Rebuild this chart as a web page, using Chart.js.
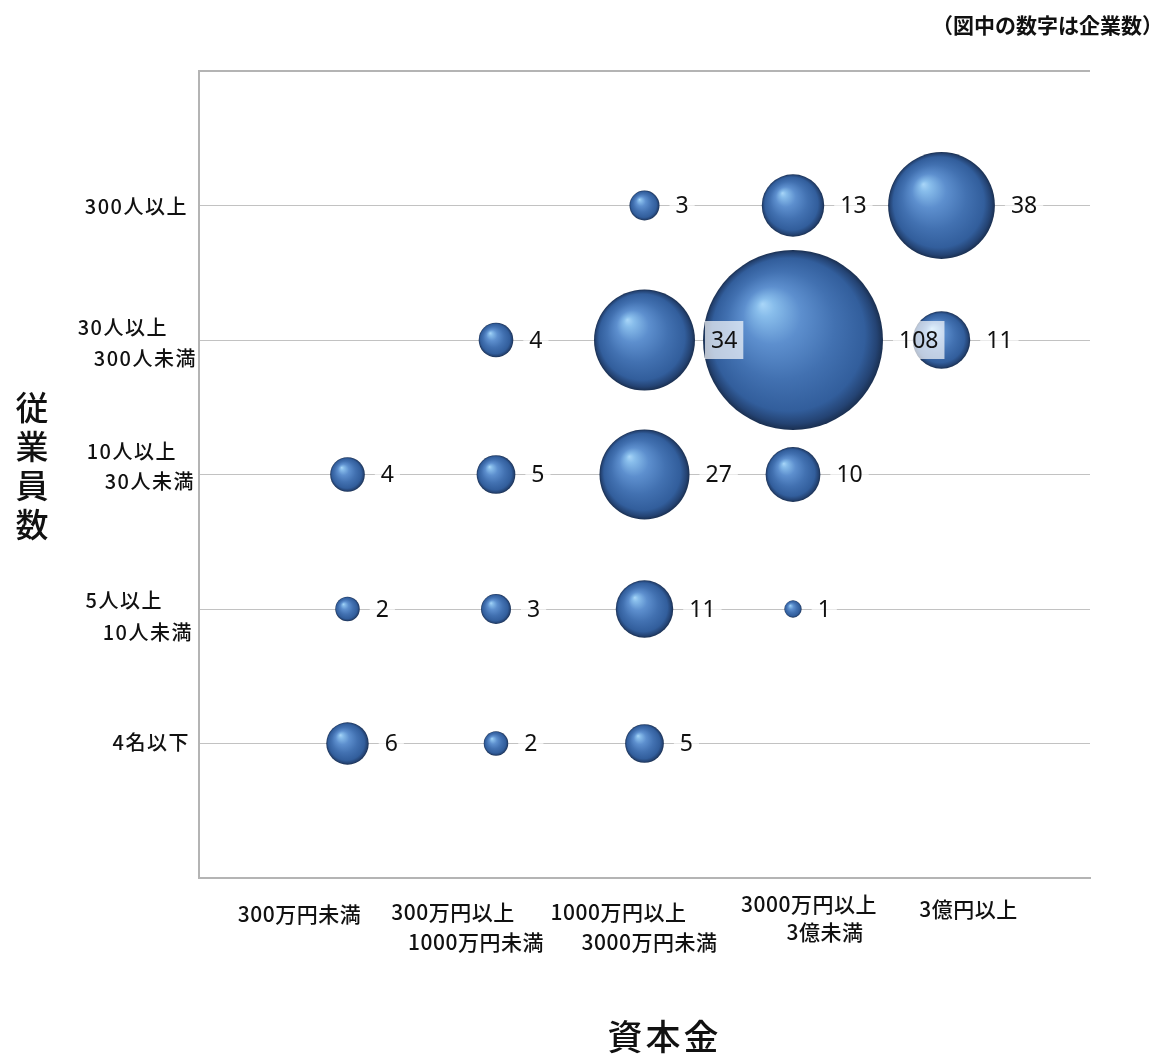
<!DOCTYPE html>
<html lang="ja">
<head>
<meta charset="utf-8">
<title>資本金・従業員数別の企業数</title>
<script src="https://cdn.jsdelivr.net/npm/chart.js@4/dist/chart.umd.min.js"></script>
<style>
  html, body { margin: 0; padding: 0; background: #fff; }
  #wrap { position: relative; width: 1165px; height: 1057px; }
</style>
</head>
<body>
<div id="wrap"><canvas id="chart" width="1165" height="1057"></canvas></div>
<script>
// 資本金区分（横軸、左から）
const capitalLabels = [
  ['300万円未満'],
  ['300万円以上', '1000万円未満'],
  ['1000万円以上', '3000万円未満'],
  ['3000万円以上', '3億未満'],
  ['3億円以上']
];

// 従業員数区分（縦軸、下から）
const employeeLabels = [
  ['4名以下'],
  ['5人以上', '10人未満'],
  ['10人以上', '30人未満'],
  ['30人以上', '300人未満'],
  ['300人以上']
];

// 企業数：従業員数区分ごとの行、列は資本金区分の順
const countsUpTo4 = [6, 2, 5, null, null];
const counts5to10 = [2, 3, 11, 1, null];
const counts10to30 = [4, 5, 27, 10, null];
const counts30to300 = [null, 4, 34, 108, 11];
const counts300plus = [null, null, 3, 13, 38];

const countRows = [countsUpTo4, counts5to10, counts10to30, counts30to300, counts300plus];

// バブルの面積を企業数に比例させる（半径 = 係数 × √企業数）
const RADIUS_PER_SQRT = 8.66;

const points = [];
countRows.forEach((row, yi) => {
  row.forEach((count, xi) => {
    if (count == null) return;
    points.push({ x: xi + 1, y: yi + 1, r: RADIUS_PER_SQRT * Math.sqrt(count), count: count });
  });
});

// 軸ラベルの配置（目盛り位置からのずれ、行ごと）
const xLabelLayout = [
  [[-48, 36]],
  [[-43, 34], [-20, 64]],
  [[-26, 34], [5, 64]],
  [[16, 26], [32, 54]],
  [[27, 31]]
];
const yLabelLayout = [
  [[-9, -1]],
  [[-36, -9], [-6, 23]],
  [[-22, -23], [-4, 7]],
  [[-31, -13], [-2, 18]],
  [[-11, 1]]
];

const JP_FONT = '"Noto Sans CJK JP", "Noto Sans", sans-serif';
const BASE_BLUE = '#3d6fae';

// 球体風の塗り
function sphereFill(ctx) {
  const chart = ctx.chart;
  const xs = chart.scales && chart.scales.x, ys = chart.scales && chart.scales.y;
  if (!xs || !ys || !ctx.raw) return BASE_BLUE;
  const cx = xs.getPixelForValue(ctx.raw.x);
  const cy = ys.getPixelForValue(ctx.raw.y);
  const r = ctx.raw.r;
  if (![cx, cy, r].every(Number.isFinite) || r <= 0) return BASE_BLUE;
  const g = chart.ctx.createRadialGradient(cx - 0.34 * r, cy - 0.4 * r, 0, cx, cy, r);
  g.addColorStop(0, '#a9d6f8');
  g.addColorStop(0.1, '#88bdeb');
  g.addColorStop(0.32, '#5d8fce');
  g.addColorStop(0.6, '#4271b1');
  g.addColorStop(0.85, '#325e9c');
  g.addColorStop(0.95, '#244373');
  g.addColorStop(1, '#1a2f50');
  return g;
}

// 企業数ラベル（バブルの右側）
const valueLabels = {
  id: 'valueLabels',
  afterDatasetsDraw(chart) {
    const ctx = chart.ctx;
    const meta = chart.getDatasetMeta(0);
    const data = chart.data.datasets[0].data;
    ctx.save();
    ctx.font = '23px "Noto Sans", "DejaVu Sans", sans-serif';
    ctx.textBaseline = 'middle';
    ctx.textAlign = 'left';
    meta.data.forEach((el, i) => {
      const text = String(data[i].count);
      const r = el.options.radius;
      const tx = el.x + r + 16;
      const w = ctx.measureText(text).width;
      ctx.fillStyle = 'rgba(255,255,255,0.68)';
      ctx.fillRect(tx - 6, el.y - 19, w + 12, 38);
      ctx.fillStyle = '#111';
      ctx.fillText(text, tx, el.y + 1);
    });
    ctx.restore();
  }
};

// 軸ラベル・軸タイトル・注記
const axisText = {
  id: 'axisText',
  afterDraw(chart) {
    const ctx = chart.ctx;
    const area = chart.chartArea;
    const xs = chart.scales.x, ys = chart.scales.y;
    ctx.save();
    ctx.fillStyle = '#111';
    ctx.textBaseline = 'middle';

    // 横軸の区分名
    ctx.font = '500 21px ' + JP_FONT;
    ctx.textAlign = 'center';
    ctx.letterSpacing = '0.5px';
    capitalLabels.forEach((lines, i) => {
      const px = xs.getPixelForValue(i + 1);
      lines.forEach((line, j) => {
        const [dx, dy] = xLabelLayout[i][j];
        ctx.fillText(line, px + dx, area.bottom + dy);
      });
    });

    // 縦軸の区分名
    ctx.font = '500 20px ' + JP_FONT;
    ctx.textAlign = 'right';
    ctx.letterSpacing = '1.5px';
    employeeLabels.forEach((lines, i) => {
      const py = ys.getPixelForValue(i + 1);
      lines.forEach((line, j) => {
        const [dx, dy] = yLabelLayout[i][j];
        ctx.fillText(line, area.left + dx, py + dy);
      });
    });

    // 縦軸タイトル（縦書き）
    ctx.font = '500 33px ' + JP_FONT;
    ctx.textAlign = 'center';
    ctx.letterSpacing = '0px';
    const yTitle = '従業員数';
    const midY = (area.top + area.bottom) / 2 - 9;
    const step = 39;
    [...yTitle].forEach((ch, k) => {
      ctx.fillText(ch, 32, midY + (k - 1.5) * step);
    });

    // 横軸タイトル
    ctx.font = '500 35px ' + JP_FONT;
    ctx.letterSpacing = '3px';
    ctx.fillText('資本金', (area.left + area.right) / 2 + 20, 1037);

    // 注記
    ctx.font = 'bold 21px ' + JP_FONT;
    ctx.letterSpacing = '0px';
    ctx.textAlign = 'right';
    ctx.fillText('（図中の数字は企業数）', 1163, 25);
    ctx.restore();
  }
};

new Chart(document.getElementById('chart'), {
  type: 'bubble',
  data: {
    datasets: [{
      label: '企業数',
      data: points,
      backgroundColor: sphereFill,
      borderWidth: 0,
      hoverBorderWidth: 0,
      hoverRadius: 0
    }]
  },
  options: {
    responsive: false,
    animation: false,
    events: [],
    layout: { autoPadding: false, padding: { left: 199, top: 71, right: 75, bottom: 179 } },
    plugins: {
      legend: { display: false },
      tooltip: { enabled: false }
    },
    scales: {
      x: {
        type: 'linear',
        min: 0,
        max: 6,
        ticks: { display: false, stepSize: 1 },
        grid: { display: false, drawTicks: false },
        border: { display: true, color: '#b4b4b4', width: 2 }
      },
      y: {
        type: 'linear',
        min: 0,
        max: 6,
        ticks: { display: false, stepSize: 1 },
        grid: {
          drawTicks: false,
          color: c => c.tick.value === 6 ? '#b4b4b4' : (c.tick.value === 0 ? 'rgba(0,0,0,0)' : '#c2c2c2'),
          lineWidth: c => c.tick.value === 6 ? 2 : 1
        },
        border: { display: true, color: '#b4b4b4', width: 2 }
      }
    }
  },
  plugins: [valueLabels, axisText]
});
</script>
</body>
</html>
